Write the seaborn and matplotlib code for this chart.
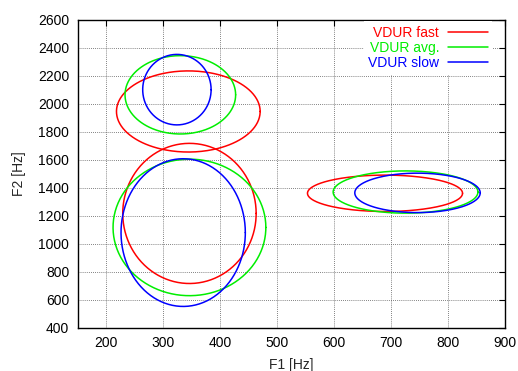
import numpy as np
import pandas as pd
import matplotlib
matplotlib.use("Agg")
import matplotlib.pyplot as plt
from matplotlib.lines import Line2D
import seaborn as sns

# Ellipse parameters (three vowel regions per speaking rate)
speeds = ["VDUR fast", "VDUR avg.", "VDUR slow"]
colors = ["#ff0000", "#00ee00", "#0000ff"]

fast_cx = [344, 346, 689]
fast_cy = [1946, 1217, 1361]
fast_rx = [126, 117, 136]
fast_ry = [290, 501, 130]

avg_cx = [330, 346, 725]
avg_cy = [2065, 1117, 1370]
avg_rx = [97, 134, 127]
avg_ry = [280, 488, 151]

slow_cx = [324, 335, 746]
slow_cy = [2102, 1080, 1364]
slow_rx = [60, 109, 110]
slow_ry = [252, 528, 141]

x_ticks = [200, 300, 400, 500, 600, 700, 800, 900]
y_ticks = [400, 600, 800, 1000, 1200, 1400, 1600, 1800, 2000, 2200, 2400, 2600]

params = {
    "VDUR fast": (fast_cx, fast_cy, fast_rx, fast_ry),
    "VDUR avg.": (avg_cx, avg_cy, avg_rx, avg_ry),
    "VDUR slow": (slow_cx, slow_cy, slow_rx, slow_ry),
}

t = np.linspace(0, 2 * np.pi, 300)
rows = []
for sp in speeds:
    cx, cy, rx, ry = params[sp]
    for g in range(len(cx)):
        xs = cx[g] + rx[g] * np.cos(t)
        ys = cy[g] + ry[g] * np.sin(t)
        for i, (xv, yv) in enumerate(zip(xs, ys)):
            rows.append({"speed": sp, "unit": f"{sp}-{g}", "order": i, "F1": xv, "F2": yv})
df = pd.DataFrame(rows)

sns.set_style("white")
plt.rcParams["font.family"] = ["Liberation Sans", "DejaVu Sans"]

fig = plt.figure(figsize=(5.18, 3.71), dpi=100)
ax = fig.add_axes([0.150, 0.1167, 0.8255, 0.8294])

sns.lineplot(data=df, x="F1", y="F2", hue="speed", units="unit", estimator=None,
             sort=False, palette=dict(zip(speeds, colors)), hue_order=speeds,
             linewidth=1.1, legend=False, ax=ax)

ax.set_xlim(150, 900)
ax.set_ylim(400, 2600)
ax.set_xticks(x_ticks)
ax.set_yticks(y_ticks)
ax.set_xticklabels([str(v) for v in x_ticks])
ax.set_yticklabels([str(v) for v in y_ticks])
ax.grid(True, color="0.35", linestyle=(0, (1, 1.5)), linewidth=0.6)
ax.set_axisbelow(True)
ax.tick_params(direction="in", length=4, width=0.8, top=True, right=True,
               labelsize=10, pad=6, colors="black")
for s in ax.spines.values():
    s.set_visible(True)
    s.set_color("black")
    s.set_linewidth(1.0)
ax.set_xlabel("F1 [Hz]", fontsize=10, labelpad=6)
ax.set_ylabel("F2 [Hz]", fontsize=10, labelpad=9)

handles = [Line2D([0], [0], color=c, lw=1.1) for c in colors]
leg = ax.legend(handles, speeds, loc="upper right", bbox_to_anchor=(0.985, 1.018),
                markerfirst=False, labelcolor=colors, fontsize=10,
                handlelength=2.9, handletextpad=0.6, labelspacing=0.1,
                borderpad=0.3, frameon=True, fancybox=False)
leg.get_frame().set_facecolor("white")
leg.get_frame().set_edgecolor("none")
leg.get_frame().set_alpha(1)
for txt in leg.get_texts():
    txt.set_ha("right")

fig.savefig("out.png", dpi=100)
